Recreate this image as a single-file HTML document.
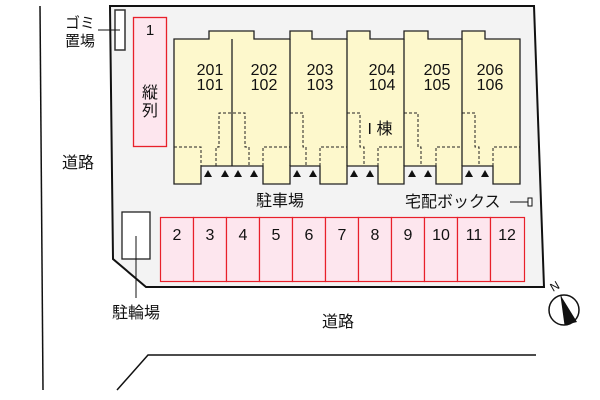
<!DOCTYPE html>
<html><head><meta charset="utf-8"><style>
html,body{margin:0;padding:0;background:#fff;}
svg{display:block;}
text{font-family:"Liberation Sans","Noto Sans CJK JP",sans-serif;fill:#111;}
</style></head><body>
<svg width="600" height="400" viewBox="0 0 600 400" xmlns="http://www.w3.org/2000/svg">
<line x1="40" y1="6" x2="43" y2="390" stroke="#111" stroke-width="1.5"/>
<polyline points="117,390 148,355 536,355" fill="none" stroke="#111" stroke-width="1.5"/>
<polygon points="110,6 534,6 544,287 146,287 113,259" fill="#f3f3f3" stroke="#111" stroke-width="2"/>
<rect x="115" y="10" width="10" height="40" fill="#fff" stroke="#333" stroke-width="1.5"/>
<line x1="98" y1="30" x2="120" y2="30" stroke="#111"/>
<text x="80" y="28" font-size="15" text-anchor="middle">ゴミ</text>
<text x="80" y="46" font-size="15" text-anchor="middle">置場</text>
<text x="78" y="168" font-size="16" text-anchor="middle">道路</text>
<rect x="133.5" y="17.5" width="33" height="129" fill="#fde6ee" stroke="#e8202a" stroke-width="1.3"/>
<text x="150" y="35" font-size="15" text-anchor="middle">1</text>
<text x="150" y="98" font-size="16" text-anchor="middle">縦</text>
<text x="150" y="116" font-size="16" text-anchor="middle">列</text>
<polygon fill="#fdf8cc" stroke="#222" stroke-width="1.3" points="174,39 209,39 209,31 254,31 254,39 290,39 290,31 312,31 312,39 347,39 347,31 370,31 370,39 404,39 404,31 428,31 428,39 462,39 462,31 485,31 485,39 520,39 520,184 493,184 493,166 462,166 462,184 436,184 436,166 404,166 404,184 378,184 378,166 347,166 347,184 320,184 320,166 290,166 290,184 263,184 263,166 201,166 201,184 174,184"/>
<g stroke="#222" stroke-width="1.3" fill="none">
<line x1="232" y1="39" x2="232" y2="166"/>
<line x1="290" y1="39" x2="290" y2="166"/>
<line x1="347" y1="39" x2="347" y2="166"/>
<line x1="404" y1="39" x2="404" y2="166"/>
<line x1="462" y1="39" x2="462" y2="166"/>
</g>
<g stroke="#222" stroke-width="1" fill="none" stroke-dasharray="3,2">
<polyline points="174,147 201,147 201,166"/>
<polyline points="216,166 216,147 219,147 219,113 245,113 245,147 249,147 249,166"/>
<polyline points="263,166 263,147 290,147"/>
<polyline points="290,113 303,113 303,147 306,147 306,166"/>
<polyline points="320,166 320,147 347,147"/>
<polyline points="347,113 360,113 360,147 364,147 364,166"/>
<polyline points="378,166 378,147 404,147"/>
<polyline points="404,113 418,113 418,147 421,147 421,166"/>
<polyline points="436,166 436,147 462,147"/>
<polyline points="462,113 475,113 475,147 479,147 479,166"/>
<polyline points="493,166 493,147 520,147"/>
</g>
<g fill="#111">
<polygon points="208,170 212,177 204,177"/><polygon points="225,170 229,177 221,177"/>
<polygon points="238,170 242,177 234,177"/><polygon points="254,170 258,177 250,177"/>
<polygon points="297,170 301,177 293,177"/><polygon points="313,170 317,177 309,177"/>
<polygon points="354,170 358,177 350,177"/><polygon points="370,170 374,177 366,177"/>
<polygon points="412,170 416,177 408,177"/><polygon points="428,170 432,177 424,177"/>
<polygon points="469,170 473,177 465,177"/><polygon points="485,170 489,177 481,177"/>
</g>
<g font-size="16" text-anchor="middle">
<text x="210" y="75">201</text><text x="210" y="90">101</text>
<text x="264" y="75">202</text><text x="264" y="90">102</text>
<text x="320" y="75">203</text><text x="320" y="90">103</text>
<text x="382" y="75">204</text><text x="382" y="90">104</text>
<text x="437" y="75">205</text><text x="437" y="90">105</text>
<text x="490" y="75">206</text><text x="490" y="90">106</text>
<text x="380" y="134">I 棟</text>
</g>
<text x="280" y="206" font-size="16" text-anchor="middle">駐車場</text>
<text x="405" y="207" font-size="16">宅配ボックス</text>
<line x1="510" y1="202" x2="528" y2="202" stroke="#111"/>
<rect x="528" y="198" width="4" height="8" fill="#fff" stroke="#111"/>
<g fill="#fde6ee" stroke="#e8202a" stroke-width="1.2">
<rect x="160.5" y="217.5" width="33" height="64"/><rect x="193.5" y="217.5" width="33" height="64"/>
<rect x="226.5" y="217.5" width="33" height="64"/><rect x="259.5" y="217.5" width="33" height="64"/>
<rect x="292.5" y="217.5" width="33" height="64"/><rect x="325.5" y="217.5" width="33" height="64"/>
<rect x="358.5" y="217.5" width="33" height="64"/><rect x="391.5" y="217.5" width="33" height="64"/>
<rect x="424.5" y="217.5" width="33" height="64"/><rect x="457.5" y="217.5" width="33" height="64"/>
<rect x="490.5" y="217.5" width="34" height="64"/>
</g>
<g font-size="16" text-anchor="middle">
<text x="177" y="240">2</text><text x="210" y="240">3</text><text x="243" y="240">4</text>
<text x="276" y="240">5</text><text x="309" y="240">6</text><text x="342" y="240">7</text>
<text x="375" y="240">8</text><text x="408" y="240">9</text><text x="441" y="240">10</text>
<text x="474" y="240">11</text><text x="507" y="240">12</text>
</g>
<rect x="122" y="212" width="28" height="47" fill="#fff" stroke="#222" stroke-width="1.3"/>
<line x1="136" y1="236" x2="136" y2="298" stroke="#111"/>
<text x="136" y="318" font-size="16" text-anchor="middle">駐輪場</text>
<text x="338" y="327" font-size="16" text-anchor="middle">道路</text>
<circle cx="564" cy="310" r="15" fill="#fff" stroke="#111" stroke-width="1.5"/>
<polygon points="561,296 577,322 565,325" fill="#111"/>
<line x1="561" y1="296" x2="565" y2="325" stroke="#111"/>
<text x="553" y="292" font-size="12" transform="rotate(-30 553 292)">N</text>
</svg>
</body></html>
